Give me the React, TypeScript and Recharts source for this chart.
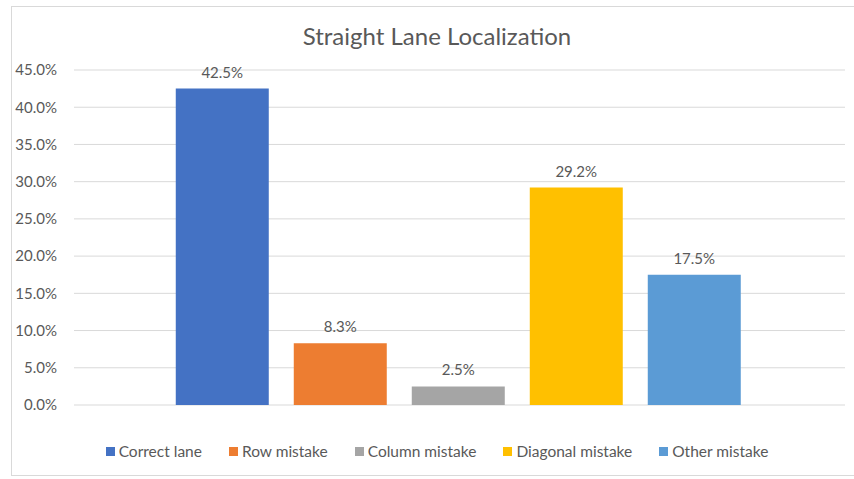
import { Bar, BarChart, CartesianGrid, LabelList, XAxis, YAxis } from 'recharts'

const seriesNames = ['Correct lane', 'Row mistake', 'Column mistake', 'Diagonal mistake', 'Other mistake']
const seriesKeys = ['correct', 'row', 'column', 'diagonal', 'other']
const seriesValues = [42.5, 8.3, 2.5, 29.2, 17.5]
const seriesColors = ['#4472C4', '#ED7D31', '#A5A5A5', '#FFC000', '#5B9BD5']
const yTicks = [0, 5, 10, 15, 20, 25, 30, 35, 40, 45]

const FONT = 'Lato, "Open Sans", sans-serif'
const TEXT = '#595959'

const row: Record<string, string | number> = { name: 'Straight' }
seriesKeys.forEach((k, i) => {
  row[k] = seriesValues[i]
})
const data = [row]

const pct = (v: number) => `${Number(v).toFixed(1)}%`

export default function App() {
  return (
    <div style={{ position: 'absolute', left: 0, top: 0, width: 854, height: 479, background: '#fff', overflow: 'hidden', fontFamily: FONT }}>
      {/* chart frame */}
      <div style={{ position: 'absolute', left: 11, top: 6, width: 860, height: 470, border: '1px solid #d9d9d9', boxSizing: 'border-box' }} />
      <div style={{ position: 'absolute', left: 11, width: 852, top: 20, textAlign: 'center', fontSize: 24, color: TEXT, lineHeight: '32px' }}>
        Straight Lane Localization
      </div>
      <div style={{ position: 'absolute', left: 0, top: 0 }}>
        <BarChart
          width={854}
          height={479}
          data={data}
          margin={{ top: 70, right: 9, left: 0, bottom: 74 }}
          barGap={25}
          barCategoryGap="13.2%"
        >
          <CartesianGrid stroke="#d9d9d9" vertical={false} />
          <XAxis dataKey="name" hide />
          <YAxis
            width={74}
            domain={[0, 45]}
            ticks={yTicks}
            interval={0}
            axisLine={false}
            tickLine={false}
            tickSize={0}
            tickMargin={17}
            tickFormatter={pct}
            tick={{ fill: TEXT, fontSize: 15, fontFamily: FONT }}
          />
          {seriesKeys.map((k, i) => (
            <Bar key={k} dataKey={k} name={seriesNames[i]} fill={seriesColors[i]} isAnimationActive={false}>
              <LabelList
                dataKey={k}
                position="top"
                offset={11}
                formatter={(v: any) => pct(v)}
                style={{ fill: TEXT, fontSize: 15, fontFamily: FONT }}
              />
            </Bar>
          ))}
        </BarChart>
      </div>
      {/* legend */}
      <div style={{ position: 'absolute', left: 11, width: 852, top: 442, display: 'flex', justifyContent: 'center', gap: 27, fontSize: 15.5, color: TEXT }}>
        {seriesNames.map((n, i) => (
          <div key={n} style={{ display: 'flex', alignItems: 'center', gap: 4 }}>
            <span style={{ display: 'inline-block', width: 9, height: 9, background: seriesColors[i] }} />
            <span>{n}</span>
          </div>
        ))}
      </div>
    </div>
  )
}
